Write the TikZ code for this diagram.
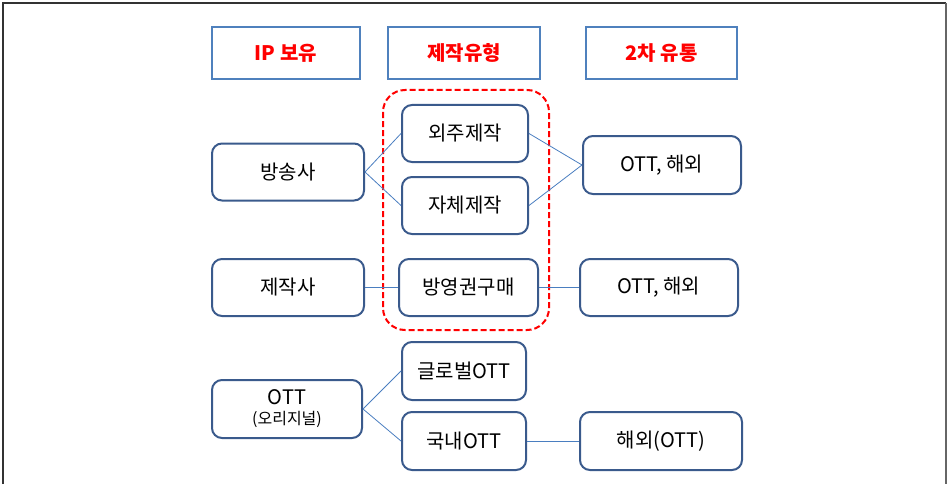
\documentclass[tikz,border=0pt]{standalone}
\usepackage{fontspec}
\setmainfont{Noto Sans CJK KR}
\definecolor{boxblue}{HTML}{3A5A8C}
\definecolor{headblue}{HTML}{4F81BD}
\definecolor{lineblue}{HTML}{4A7EC0}
\begin{document}
\begin{tikzpicture}[x=1pt,y=-1pt,
    head/.style={draw=headblue, line width=2.2pt, text=red,
      minimum height=52pt, font=\fontsize{20}{23}\selectfont\bfseries},
    item/.style={draw=boxblue, line width=2pt, rounded corners=10pt,
      minimum height=57pt, font=\fontsize{20}{24}\selectfont},
    link/.style={draw=lineblue, line width=0.8pt}]
      \useasboundingbox (0,0) rectangle (949,484);

      % FRAME
      \draw[line width=2pt, black!80] (3,484) -- (3,3) -- (946,3);
      \draw[line width=1.5pt, black!60] (946,3) -- (946,484);

      % HEADERS
      \node[head, minimum width=148pt] (hIP) at (286,53) {IP 보유};
      \node[head, minimum width=152pt] (hType) at (464,53) {제작유형};
      \node[head, minimum width=151pt] (hDist) at (661.5,53) {2차 유통};

      % PRODUCTION TYPES
      \draw[red, dash pattern=on 6pt off 3pt, line width=2pt, rounded corners=22pt] (383,90) rectangle (549,330);

      % IP OWNERS
      \node[item, minimum width=152pt] (bcast) at (288,172) {방송사};
      \node[item, minimum width=152pt] (prod) at (288,287.5) {제작사};
      \node[item, minimum width=150pt, minimum height=58pt, align=center] (ott) at (287,409)
        {OTT\\[-4pt]{\fontsize{16}{18}\selectfont(오리지널)}};

      \node[item, minimum width=126pt] (outs) at (465,133.5) {외주제작};
      \node[item, minimum width=126pt] (self) at (465,205.5) {자체제작};
      \node[item, minimum width=139pt] (buy) at (468.5,287.5) {방영권구매};
      \node[item, minimum width=124pt, minimum height=58pt] (glob) at (464,371) {글로벌OTT};
      \node[item, minimum width=124pt, minimum height=58pt] (dom) at (464,441) {국내OTT};

      % SECONDARY DISTRIBUTION
      \node[item, minimum width=158pt, minimum height=58pt] (dA) at (662,165) {OTT, 해외};
      \node[item, minimum width=158pt] (dB) at (659,287.5) {OTT, 해외};
      \node[item, minimum width=162pt, minimum height=58pt] (dC) at (661,441) {해외(OTT)};

      % LINKS
      \draw[link] (bcast.east) -- (outs.west);
      \draw[link] (bcast.east) -- (self.west);
      \draw[link] (outs.east) -- (dA.west);
      \draw[link] (self.east) -- (dA.west);
      \draw[link] (prod.east) -- (buy.west);
      \draw[link] (buy.east) -- (dB.west);
      \draw[link] (ott.east) -- (glob.west);
      \draw[link] (ott.east) -- (dom.west);
      \draw[link] (dom.east) -- (dC.west);
    \end{tikzpicture}
\end{document}
